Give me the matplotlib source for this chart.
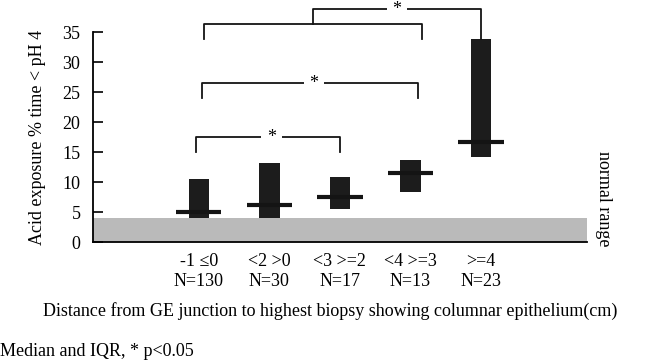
import matplotlib
matplotlib.use("Agg")
import matplotlib.pyplot as plt

plt.rcParams["font.family"] = ["Liberation Serif", "DejaVu Serif"]

# Data: median and IQR of acid exposure per group
groups = ["-1 \u22640", "<2 >0", "<3 >=2", "<4 >=3", ">=4"]
counts = ["N=130", "N=30", "N=17", "N=13", "N=23"]
q1 = [4.0, 4.0, 5.5, 8.3, 14.2]
median = [5.0, 6.2, 7.5, 11.5, 16.7]
q3 = [10.5, 13.2, 10.8, 13.7, 33.8]
normal_upper = 4.0

# significance brackets: (left x, right x, bar height, leg bottom, star x)
brackets = [
    (-0.04, 2.0, 17.5, 15.0, 1.03),
    (0.04, 3.1, 26.5, 24.0, 1.63),
]
# top bracket: groups 1-4 pooled vs group 5
pool_left, pool_right, pool_y, pool_leg = 0.07, 3.17, 36.3, 33.8
top_y, top_leg, top_star = 38.8, 33.8, 2.81

fs = 13
fig = plt.figure(figsize=(6.45, 3.64), dpi=100)
ax = fig.add_axes([0.144, 0.335, 0.766, 0.577])

x = list(range(len(groups)))
ink = "#141414"

ax.axhspan(0, normal_upper, color="#bababa", zorder=1, lw=0)
ax.bar(x, [b - a for a, b in zip(q1, q3)], bottom=q1, width=0.29,
       color="#1c1c1c", zorder=2)
ax.hlines(median, [i - 0.32 for i in x], [i + 0.32 for i in x],
          colors=ink, linewidth=3, zorder=3)

lw = 1.3
for xl, xr, yb, yl, xs in brackets:
    ax.plot([xl, xl, xr, xr], [yl, yb, yb, yl], color=ink, lw=lw, clip_on=False)
    ax.text(xs, yb, "*", ha="center", va="center", fontsize=fs,
            bbox=dict(facecolor="white", edgecolor="none", pad=4))

mid = (pool_left + pool_right) / 2
ax.plot([pool_left, pool_left, pool_right, pool_right],
        [pool_leg, pool_y, pool_y, pool_leg], color=ink, lw=lw, clip_on=False)
ax.plot([mid, mid, 4, 4], [pool_y, top_y, top_y, top_leg],
        color=ink, lw=lw, clip_on=False)
ax.text(top_star, top_y, "*", ha="center", va="center", fontsize=fs,
        bbox=dict(facecolor="white", edgecolor="none", pad=4), clip_on=False)

ax.text(5.74, 7.2, "normal range", rotation=270, ha="center", va="center",
        fontsize=fs)

ax.set_xlim(-1.5, 5.5)
ax.set_ylim(0, 35)
ax.set_yticks(range(0, 36, 5))
ax.set_xticks(x, [f"{g}\n{n}" for g, n in zip(groups, counts)])
ax.tick_params(axis="x", length=0, pad=8, labelsize=fs)
ax.tick_params(axis="y", direction="in", length=7, width=1.2, pad=9,
               labelsize=fs)
ax.spines["top"].set_visible(False)
ax.spines["right"].set_visible(False)
ax.spines["left"].set_linewidth(1.3)
ax.spines["bottom"].set_linewidth(1.3)
ax.set_ylabel("Acid exposure % time < pH 4", fontsize=fs, labelpad=12)

fig.text(0.512, 0.145, "Distance from GE junction to highest biopsy showing "
         "columnar epithelium(cm)", ha="center", va="center", fontsize=fs)
fig.text(0.0, 0.033, "Median and IQR, * p<0.05", ha="left", va="center",
         fontsize=fs)

fig.savefig("out.png", dpi=100)
